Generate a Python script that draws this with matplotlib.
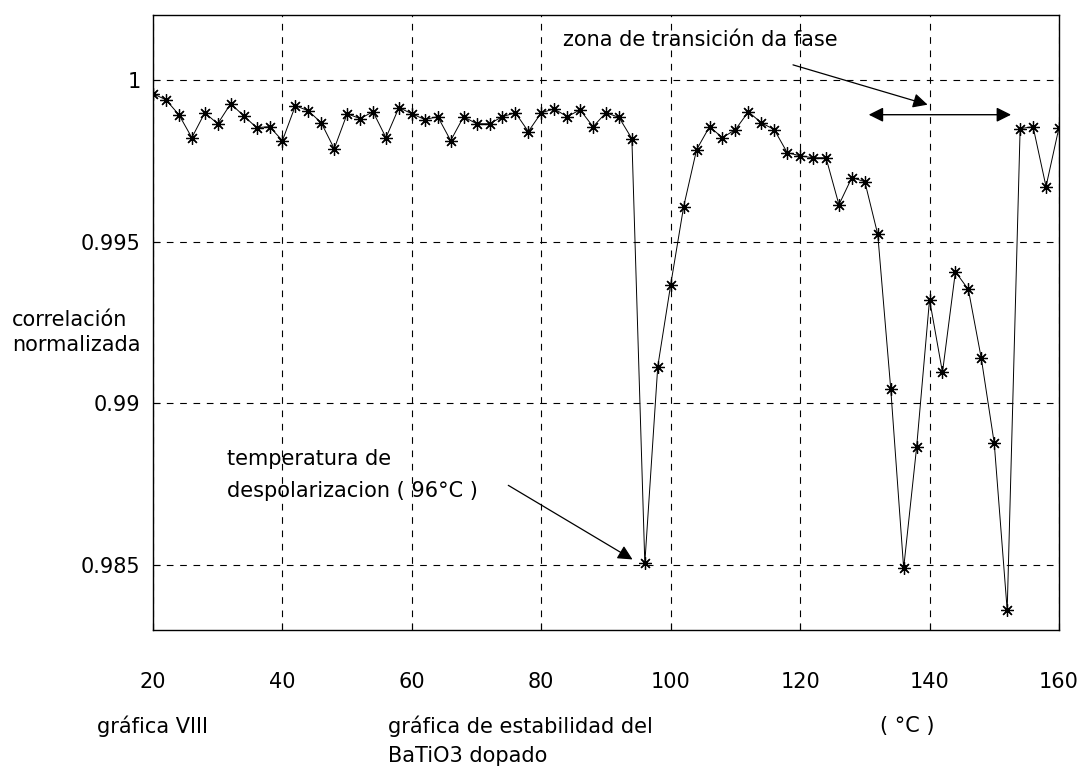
import matplotlib
matplotlib.use("Agg")
import numpy as np
from matplotlib import pyplot as plt

# temperatura (°C) y correlacion normalizada
temperatura = list(range(20, 161, 2))
correlacion = [
    0.99957, 0.99938, 0.99892, 0.99821, 0.99898, 0.99864, 0.99926, 0.99889,
    0.99852, 0.99855, 0.99812, 0.99920, 0.99904, 0.99867, 0.99787, 0.99895,
    0.99880, 0.99901, 0.99821, 0.99914, 0.99895, 0.99877, 0.99886, 0.99812,
    0.99886, 0.99864, 0.99864, 0.99886, 0.99898, 0.99840, 0.99898, 0.99910,
    0.99886, 0.99907, 0.99855, 0.99898, 0.99884, 0.99818, 0.98506, 0.99114,
    0.99367, 0.99608, 0.99784, 0.99855, 0.99821, 0.99846, 0.99901, 0.99867,
    0.99846, 0.99775, 0.99765, 0.99759, 0.99759, 0.99614, 0.99698, 0.99685,
    0.99522, 0.99046, 0.98491, 0.98864, 0.99321, 0.99096, 0.99407, 0.99352,
    0.99139, 0.98877, 0.98361, 0.99849, 0.99855, 0.99670, 0.99852,
]
xticks = [20, 40, 60, 80, 100, 120, 140, 160]
yticks = [0.985, 0.99, 0.995, 1.0]
ytick_labels = ["0.985", "0.99", "0.995", "1"]

plt.rcParams['font.family'] = ['DejaVu Sans']
FS = 15

fig = plt.figure(figsize=(10.83, 7.7), dpi=100)
ax = fig.add_axes([0.1413, 0.1818, 0.8365, 0.7987])

ax.plot(temperatura, correlacion, color='black', linewidth=0.7,
        marker=(8, 2, 0), markersize=9, markeredgewidth=0.9)

ax.set_xlim(20, 160)
ax.set_ylim(0.983, 1.002)
ax.set_xticks(xticks)
ax.set_yticks(yticks)
ax.set_yticklabels(ytick_labels)
ax.tick_params(direction='in', length=5, labelsize=FS, color='black')
ax.tick_params(axis='x', pad=30)
ax.tick_params(axis='y', pad=9)
ax.grid(True, color='black', linestyle=(0, (6, 6)), linewidth=0.8)
for s in ax.spines.values():
    s.set_color('black')
    s.set_linewidth(1.0)

# textos fuera de los ejes (en pixeles de la figura)
def ftext(x, y, s):
    fig.text(x/1083, 1-y/770, s, fontsize=FS, va='center', ha='left')

ftext(12, 320, "correlación")
ftext(12, 345, "normalizada")
ftext(97, 726, "gráfica VIII")
ftext(388, 726, "gráfica de estabilidad del")
ftext(388, 756, "BaTiO3 dopado")
ftext(880, 726, "( °C )")

ax.text(31.5, 0.98827, "temperatura de", fontsize=FS, va='center', ha='left')
ax.text(31.5, 0.98731, "despolarizacion ( 96°C )", fontsize=FS, va='center', ha='left')
ax.annotate("", xy=(94.1, 0.98518), xytext=(74.9, 0.98747),
            arrowprops=dict(arrowstyle='-|>', color='black', lw=0.9,
                            mutation_scale=22, shrinkA=0, shrinkB=0))

ax.text(83.3, 1.00123, "zona de transición da fase", fontsize=FS, va='center', ha='left')
ax.annotate("", xy=(139.7, 0.99923), xytext=(118.9, 1.00046),
            arrowprops=dict(arrowstyle='-|>', color='black', lw=0.9,
                            mutation_scale=22, shrinkA=0, shrinkB=0))
ax.annotate("", xy=(130.6, 0.99892), xytext=(152.6, 0.99892),
            arrowprops=dict(arrowstyle='<|-|>', color='black', lw=1.0,
                            mutation_scale=22, shrinkA=0, shrinkB=0))

plt.savefig('out.png', dpi=100)
